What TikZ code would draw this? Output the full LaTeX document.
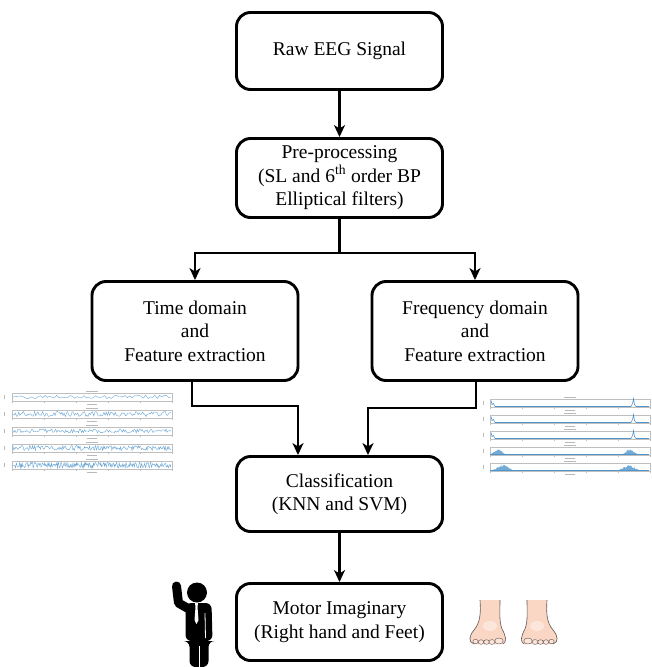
\documentclass[tikz,border=0pt]{standalone}
\usepackage{fontspec}
\setmainfont{Liberation Serif}
\usetikzlibrary{arrows.meta}
\definecolor{sigblue}{RGB}{80,150,205}
\definecolor{skin}{RGB}{250,214,196}
\definecolor{skinline}{RGB}{95,85,80}
\begin{document}
\begin{tikzpicture}[x=1pt,y=-1pt,
  stepbox/.style={draw, line width=2.9pt, rounded corners=14pt, align=center,
    font=\fontsize{19.5}{23.5}\selectfont, inner sep=0pt, minimum width=206pt},
  flow/.style={line width=2.2pt, -{Stealth[length=12pt,width=11pt,inset=3.5pt]}},
  frame/.style={draw=gray!50, line width=0.3pt},
  faint/.style={draw=gray!55, line width=0.8pt},
  toe/.style={fill=skin!60!white, draw=skinline, line width=0.4pt}]
\useasboundingbox (0,0) rectangle (651,667);

% ---------- flow boxes ----------
\node[stepbox, minimum height=77pt] (raw) at (339.5,51) {Raw EEG Signal};
\node[stepbox, minimum height=79pt] (pre) at (339.5,178)
  {Pre-processing\\(SL and 6\textsuperscript{th} order BP\\Elliptical filters)};
\node[stepbox, minimum height=99pt] (time) at (195,331)
  {Time domain\\and\\Feature extraction};
\node[stepbox, minimum height=99pt] (freq) at (475,331)
  {Frequency domain\\and\\Feature extraction};
\node[stepbox, minimum height=75pt] (class) at (339.5,494)
  {Classification\\(KNN and SVM)};
\node[stepbox, minimum height=77pt] (motor) at (339.5,622)
  {Motor Imaginary\\(Right hand and Feet)};

% ---------- connectors ----------
\coordinate (split) at (339.5,253);
\coordinate (tj) at (192,406);
\coordinate (fj) at (476,408);
\coordinate (ci) at (298,455);
\coordinate (cj) at (368,455);

\draw[flow] (raw.south) -- (pre.north);
\draw[line width=2.2pt] (pre.south) -- (split);
\draw[flow] (split) -| (time.north);
\draw[flow] (split) -| (freq.north);
\draw[flow] (time.south -| tj) -- (tj) -| (class.north -| ci);
\draw[flow] (freq.south -| fj) -- (fj) -| (class.north -| cj);
\draw[flow] (class.south) -- (motor.north);

% ---------- time-domain signal plots ----------
\pgfmathsetseed{11}
\foreach \r/\amp/\n in {0/1.8/70, 1/2.6/140, 2/2.0/160, 3/2.6/220, 4/3.0/260} {
  \pgfmathsetmacro{\yo}{391+\r*17}
  \draw[faint] (86,\yo) -- (98,\yo);
  \draw[frame] (12,\yo+2) rectangle (172,\yo+10);
  \draw[faint, line width=0.5pt] (4,\yo+4) -- (4,\yo+8);
  \foreach \t in {12,44,76,108,140,172}
    \draw[gray!50, line width=0.3pt] (\t,\yo+10) -- (\t,\yo+11.5);
  \draw[faint, line width=0.5pt] (87,\yo+13.5) -- (97,\yo+13.5);
  \draw[sigblue!85, line width=0.4pt]
    plot[domain=13:171, samples=\n, smooth] (\x,{\yo+6+\amp*rand});
}

% ---------- frequency-domain spectrum plots ----------
\foreach \r in {0,1,2,3,4} {
  \pgfmathsetmacro{\yo}{397+\r*16}
  \draw[faint] (564,\yo) -- (576,\yo);
  \draw[frame] (490,\yo+2) rectangle (650,\yo+10);
  \draw[faint, line width=0.5pt] (483,\yo+4) -- (483,\yo+8);
  \foreach \t in {490,522,554,586,618,650}
    \draw[gray!50, line width=0.3pt] (\t,\yo+10) -- (\t,\yo+11.5);
  \draw[faint, line width=0.5pt] (565,\yo+13.5) -- (575,\yo+13.5);
}
\foreach \r in {0,1,2} {
  \pgfmathsetmacro{\yb}{397+\r*16+9.5}
  \draw[sigblue, line width=0.6pt]
    (491,\yb-6) -- (492,\yb-2) -- (493.5,\yb-3) -- (495,\yb) -- (631,\yb)
    -- (632.5,\yb-3) -- (633.5,\yb-8) -- (634.5,\yb-2) -- (636,\yb) -- (649,\yb);
}
\pgfmathsetseed{5}
\foreach \r/\cl/\cr/\w in {3/498/630/5, 4/503/629/7} {
  \pgfmathsetmacro{\yb}{397+\r*16+9.5}
  \fill[sigblue!80]
    plot[domain=490:520, samples=60] (\x,{\yb-6*exp(-((\x-\cl)/\w)^2)*(0.75+0.25*rand)})
    -- (520,\yb) -- (490,\yb) -- cycle;
  \fill[sigblue!80]
    plot[domain=612:648, samples=60] (\x,{\yb-6*exp(-((\x-\cr)/\w)^2)*(0.75+0.25*rand)})
    -- (648,\yb) -- (612,\yb) -- cycle;
  \draw[sigblue, line width=0.4pt] (490,\yb) -- (649,\yb);
}

% ---------- person (raised hand) ----------
\fill (197,592.5) circle (10);
\draw[line width=9pt, line cap=round, line join=round] (176.5,586) -- (178.5,603) -- (189,609);
\fill[rounded corners=6pt] (185.5,603) -- (211.5,603) -- (212.5,641) -- (208.5,641)
  -- (208.5,667) -- (189.5,667) -- (189.5,641) -- (185.5,641) -- cycle;
\fill[white] (195,603) -- (198,603) -- (197.5,607) -- (198.5,620) -- (196.5,624)
  -- (194.5,620) -- (195.5,607) -- cycle;
\draw[white, line width=0.9pt] (199,646) -- (199,667);
\draw[white, line width=0.8pt] (205,613) -- (205.5,638);

% ---------- feet ----------
\foreach \flip in {0,1} {
  \begin{scope}[xshift=\flip*1027pt, xscale=1-2*\flip]
    \fill[skin] (480,600) .. controls (481,614) and (480,623) .. (474,630)
      .. controls (469,636) and (468,642) .. (474,644) -- (503,644)
      .. controls (507,642) and (506,636) .. (502,629)
      .. controls (499,621) and (500,612) .. (500,600) -- cycle;
    \fill[white, opacity=0.4] (490,626) ellipse (7 and 5);
    \draw[skinline, line width=0.6pt] (480,600) .. controls (481,614) and (480,623) .. (474,630)
      .. controls (469,636) and (468,642) .. (474,644);
    \draw[skinline, line width=0.6pt] (503,644)
      .. controls (507,642) and (506,636) .. (502,629)
      .. controls (499,621) and (500,612) .. (500,600);
    \draw[toe] (475.5,641.5) ellipse (2.6 and 2.2);
    \draw[toe] (481,642) ellipse (2.8 and 2.3);
    \draw[toe] (486.5,642) ellipse (2.8 and 2.3);
    \draw[toe] (492,642) ellipse (2.9 and 2.4);
    \draw[toe] (499,641) ellipse (4.2 and 3);
  \end{scope}
}
\end{tikzpicture}
\end{document}
